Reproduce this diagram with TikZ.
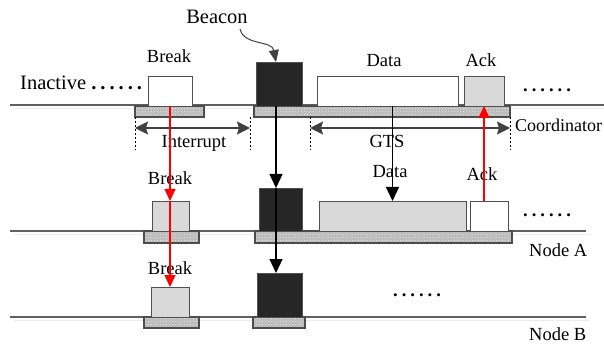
\documentclass[tikz,border=0pt]{standalone}
\usepackage{fontspec}
\setmainfont{Liberation Serif}
\usetikzlibrary{arrows.meta,patterns}

\definecolor{boxline}{HTML}{505050}
\definecolor{lightbox}{HTML}{D9D9D9}
\definecolor{darkbox}{HTML}{262626}
\definecolor{tline}{HTML}{606060}

\newcommand{\gapdots}{\textbf{.\kern4pt.\kern4pt.\kern4pt.\kern4pt.\kern4pt.}}

\tikzset{
    pkt/.style 2 args={draw=boxline, line width=0.9pt, minimum width=#1pt, minimum height=#2pt,
        inner sep=0pt, outer sep=0pt, anchor=south west},
    slot/.style={draw=black!70, line width=1.2pt, preaction={fill=gray!55}, pattern=crosshatch dots, pattern color=gray!15},
    lbl/.style={font=\fontsize{18.5}{20}\selectfont, inner sep=0pt, anchor=base},
    big/.style={font=\fontsize{20.5}{23}\selectfont, inner sep=0pt, anchor=base},
    down/.style={line width=1.2pt, -{Triangle[width=13pt,length=14pt]}},
    redarrow/.style={red, line width=1.3pt, -{Triangle[width=11pt,length=12pt]}},
    span/.style={draw=black!75, line width=1.4pt, {Stealth[width=13pt,length=13pt,inset=2pt]}-{Stealth[width=13pt,length=13pt,inset=2pt]}},
    guide/.style={line width=0.5pt, dash pattern=on 2pt off 2pt}
}

\begin{document}
\begin{tikzpicture}[x=1pt, y=-1pt]
    \useasboundingbox (0,0) rectangle (604,347);

    % Time lines
    \draw[gray!15, line width=1.2pt] (14,108.5) -- (604,108.5);
    \draw[tline, line width=1.2pt] (10,105) -- (604,105);
    \draw[gray!15, line width=1.2pt] (14,234.5) -- (590,234.5);
    \draw[tline, line width=1.2pt] (10,231) -- (586,231);
    \draw[gray!15, line width=1.2pt] (14,320.5) -- (590,320.5);
    \draw[tline, line width=1.2pt] (10,317) -- (586,317);

    % Slots
    \draw[slot] (135,106) rectangle (204,117);
    \draw[slot] (254,106) rectangle (510,117);
    \draw[slot] (144,231) rectangle (199,243);
    \draw[slot] (255,231) rectangle (512,243);
    \draw[slot] (144,317) rectangle (199,328);
    \draw[slot] (253,317) rectangle (305,328);

    % Coordinator
    \node[pkt={44}{30}, fill=white] (cbreak) at (148,106) {};
    \node[pkt={46}{44}, fill=darkbox] (cbeacon) at (256,106) {};
    \node[pkt={141}{30}, fill=white] (cdata) at (317,106) {};
    \node[pkt={40}{30}, fill=lightbox] (cack) at (464,106) {};

    % Node A
    \node[pkt={37}{30}, fill=lightbox] (abreak) at (152,231) {};
    \node[pkt={43}{43}, fill=darkbox] (abeacon) at (259,231) {};
    \node[pkt={147}{30}, fill=lightbox] (adata) at (319,231) {};
    \node[pkt={38}{30}, fill=white] (aack) at (470,231) {};

    % Node B
    \node[pkt={38}{30}, fill=lightbox] (bbreak) at (151,317) {};
    \node[pkt={45}{44}, fill=darkbox] (bbeacon) at (257,317) {};

    % Labels
    \node[big] (beacontxt) at (217,24) {Beacon};
    \node[big, anchor=base west] (inactive) at (20,90) {Inactive \gapdots};
    \node[lbl] (cbreaktxt) at (169,63) {Break};
    \node[lbl] (cdatatxt) at (384,67) {Data};
    \node[lbl] (cacktxt) at (481,67) {Ack};
    \node[lbl, anchor=base west] (cdots) at (523,92) {\gapdots};
    \node[lbl, anchor=base west, font=\fontsize{18}{20}\selectfont] (coordtxt) at (515,132) {Coordinator};
    \node[lbl] (abreaktxt) at (170,185) {Break};
    \node[lbl] (adatatxt) at (390,178) {Data};
    \node[lbl] (aacktxt) at (482,181) {Ack};
    \node[lbl, anchor=base west] (adots) at (523,217) {\gapdots};
    \node[lbl, anchor=base west] (nodeAtxt) at (529,256) {Node A};
    \node[lbl] (bbreaktxt) at (170,274) {Break};
    \node[lbl, anchor=base west] (bdots) at (393,296) {\gapdots};
    \node[lbl, anchor=base west] (nodeBtxt) at (529,340) {Node B};

    % Interrupt and GTS
    \draw[guide] (135,117) -- (135,150);
    \draw[guide] (250,117) -- (250,150);
    \draw[guide] (310,117) -- (310,150);
    \draw[guide] (510,117) -- (510,150);
    \coordinate (intL) at (135,128);
    \coordinate (intR) at (250,128);
    \coordinate (gtsL) at (310,128);
    \coordinate (gtsR) at (510,128);
    \draw[span] (intL) -- (intR);
    \draw[span] (gtsL) -- (gtsR);
    \node[lbl] (inttxt) at (194,148) {Interrupt};
    \node[lbl] (gtstxt) at (387,148) {GTS};

    % Arrows
    \coordinate (bcurve) at (240,29);
    \draw[black!75, line width=1pt, -{Triangle[width=10pt,length=12pt]}]
        (bcurve) .. controls (244,46) and (272,40) .. ([xshift=-3pt]cbeacon.north);
    \draw[down] ([xshift=-3pt]cbeacon.south) -- ([xshift=-3pt]cbeacon.south |- abeacon.north);
    \draw[down] ([xshift=-3pt]cbeacon.south |- abeacon.north) -- ([xshift=-3pt]cbeacon.south |- bbeacon.north);
    \draw[down] (adata.north |- cdata.south) -- (adata.north);
    \draw[redarrow] (cbreak.south) -- (cbreak.south |- abreak.north);
    \draw[redarrow] (cbreak.south |- abreak.north) -- (cbreak.south |- bbreak.north);
    \draw[redarrow] (cack.south |- aack.north) -- (cack.south);
\end{tikzpicture}
\end{document}
